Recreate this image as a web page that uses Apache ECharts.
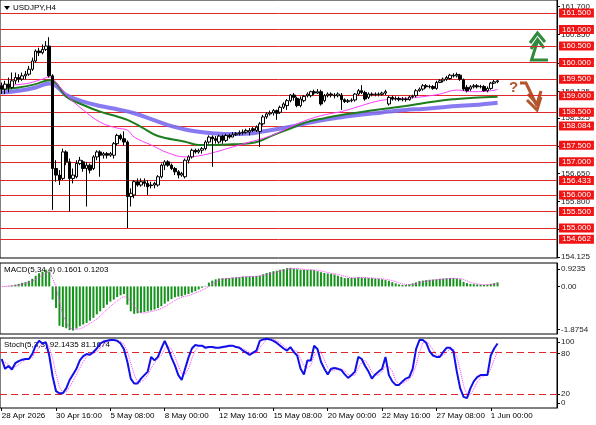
<!DOCTYPE html>
<html>
<head>
<meta charset="utf-8">
<title>USDJPY,H4</title>
<script src="https://cdn.jsdelivr.net/npm/echarts@6/dist/echarts.min.js"></script>
<style>
html, body { margin: 0; padding: 0; background: #fff; }
#chart { width: 596px; height: 425px; }
</style>
</head>
<body>
<div id="chart"></div>
<script>
// time axis: one label every 16 H4 bars
const timeLabels = ['28 Apr 2026', '30 Apr 16:00', '5 May 08:00', '8 May 00:00', '12 May 16:00',
  '15 May 08:00', '20 May 00:00', '22 May 16:00', '27 May 08:00', '1 Jun 00:00'];

const opens = [159.30,159.20,159.35,159.25,159.45,159.55,159.50,159.60,159.65,159.80,
  160.05,160.35,160.30,160.40,160.50,159.60,156.80,156.60,156.50,157.30,
  157.00,156.50,156.55,156.95,157.00,156.80,156.90,156.80,157.15,157.30,
  157.20,157.25,157.20,157.20,157.55,157.80,157.70,157.60,155.95,156.00,
  156.40,156.30,156.40,156.35,156.30,156.30,156.30,156.55,156.90,157.00,
  156.90,156.80,156.70,156.60,156.55,157.05,157.15,157.35,157.30,157.35,
  157.40,157.60,157.75,157.70,157.60,157.78,157.65,157.80,157.75,157.82,
  157.85,157.88,157.90,157.90,158.00,157.95,157.92,158.15,158.36,158.45,
  158.48,158.55,158.50,158.65,158.70,158.85,159.02,158.92,158.70,158.85,
  159.00,159.00,159.12,159.08,159.12,158.85,159.00,159.05,159.02,159.00,
  159.02,158.88,158.82,158.85,158.87,159.05,159.15,159.10,158.95,159.05,
  159.03,159.05,159.04,159.08,158.75,158.95,158.90,158.92,158.88,158.90,
  158.88,158.96,159.00,159.15,159.20,159.30,159.27,159.28,159.22,159.40,
  159.45,159.50,159.52,159.62,159.60,159.62,159.48,159.25,159.20,159.27,
  159.30,159.27,159.28,159.15,159.22,159.38,159.42];
const closes = [159.20,159.35,159.25,159.45,159.55,159.50,159.60,159.65,159.80,160.05,
  160.35,160.30,160.40,160.50,159.60,156.80,156.60,156.45,157.30,157.00,
  156.50,156.60,156.95,157.05,156.80,156.90,156.75,157.15,157.30,157.20,
  157.25,157.20,157.25,157.55,157.80,157.70,157.60,155.95,156.05,156.40,
  156.30,156.40,156.35,156.25,156.28,156.35,156.55,156.90,157.00,156.90,
  156.80,156.70,156.60,156.65,157.05,157.15,157.35,157.30,157.35,157.40,
  157.60,157.75,157.70,157.65,157.78,157.65,157.80,157.75,157.82,157.85,
  157.88,157.90,157.95,157.95,157.95,158.05,158.15,158.36,158.45,158.48,
  158.55,158.47,158.65,158.75,158.85,159.02,158.95,158.70,158.90,158.98,
  159.05,159.12,159.08,159.12,158.75,159.00,159.05,159.02,159.00,159.05,
  158.88,158.82,158.85,158.87,159.05,159.15,159.10,158.90,159.05,159.03,
  159.05,159.04,159.08,159.12,158.95,158.90,158.92,158.88,158.90,158.88,
  158.96,158.98,159.15,159.20,159.30,159.27,159.28,159.22,159.40,159.45,
  159.50,159.55,159.62,159.60,159.64,159.50,159.20,159.15,159.27,159.30,
  159.27,159.28,159.15,159.22,159.38,159.42,159.45];
const lows = [159.05,159.05,159.10,159.20,159.35,159.40,159.45,159.50,159.60,159.75,
  160.00,160.20,160.25,160.35,159.55,155.55,156.40,156.30,156.45,156.90,
  155.50,156.35,156.50,156.90,156.70,155.65,156.65,156.75,157.05,156.55,
  157.10,157.10,157.15,157.10,157.50,157.65,157.50,155.00,155.65,155.90,
  156.25,156.25,156.25,156.00,156.20,156.20,156.25,156.50,156.75,156.85,
  156.75,156.60,156.50,156.55,156.50,156.95,157.10,157.25,157.25,157.25,
  157.35,157.55,156.85,157.55,157.55,157.55,157.60,157.70,157.75,157.78,
  157.80,157.82,157.85,157.80,157.90,157.90,157.45,158.10,158.30,158.40,
  158.40,158.27,158.45,158.60,158.57,158.80,158.85,158.65,158.65,158.80,
  158.95,158.95,159.02,159.05,158.70,158.80,158.95,158.95,158.92,158.95,
  158.57,158.78,158.78,158.80,158.82,159.00,159.05,158.85,158.90,158.98,
  158.98,158.98,159.00,159.02,158.70,158.85,158.85,158.83,158.83,158.82,
  158.85,158.92,158.95,159.12,159.15,159.22,159.22,159.18,159.18,159.38,
  159.40,159.45,159.48,159.55,159.55,159.45,159.15,159.10,159.15,159.22,
  159.22,159.22,159.12,159.10,159.18,159.35,159.38];
const highs = [159.40,159.45,159.55,159.70,159.70,159.65,159.70,159.75,159.90,160.15,
  160.40,160.45,160.55,160.65,160.77,159.65,157.05,156.75,157.40,157.35,
  157.10,156.80,157.05,157.15,157.05,157.00,156.95,157.20,157.35,157.35,
  157.30,157.30,157.30,157.60,157.85,157.85,157.92,157.65,156.20,156.45,
  156.50,156.50,156.50,156.45,156.40,156.40,156.60,156.95,157.05,157.05,
  156.95,156.85,156.75,156.70,157.10,157.20,157.40,157.40,157.40,157.45,
  157.65,157.80,157.80,157.78,157.82,157.82,157.85,157.85,157.90,157.90,
  157.95,157.98,158.00,158.02,158.05,158.10,158.20,158.42,158.50,158.55,
  158.60,158.58,158.70,158.80,158.90,159.05,159.08,158.97,158.98,159.02,
  159.10,159.15,159.18,159.20,159.18,159.05,159.10,159.10,159.08,159.10,
  159.08,158.92,158.90,158.92,159.08,159.20,159.32,159.15,159.10,159.10,
  159.10,159.10,159.12,159.18,159.00,159.00,158.98,158.97,158.96,158.95,
  159.00,159.03,159.20,159.25,159.35,159.35,159.33,159.32,159.45,159.50,
  159.55,159.60,159.66,159.68,159.70,159.66,159.52,159.32,159.32,159.35,
  159.35,159.33,159.32,159.28,159.42,159.48,159.48];

// moving averages, read at [bar, price]
const maFast = [[0,159.30],[4,159.33],[8,159.38],[12,159.50],[14,159.57],[16,159.40],[19,159.02],
  [24,158.57],[29,158.20],[34,158.02],[37,157.96],[39,157.75],[44,157.51],[49,157.27],[54,157.15],
  [58,157.18],[63,157.30],[68,157.45],[73,157.60],[76,157.68],[80,157.82],[85,158.06],[90,158.27],
  [95,158.42],[100,158.52],[105,158.67],[110,158.82],[114,158.89],[119,158.92],[124,158.97],
  [129,159.05],[134,159.17],[139,159.12],[144,159.15],[146,159.19]];
const maMid = [[0,159.20],[5,159.25],[10,159.35],[14,159.47],[16,159.38],[19,158.97],[24,158.72],
  [29,158.52],[34,158.37],[37,158.27],[41,158.06],[46,157.78],[54,157.61],[58,157.51],[63,157.51],
  [68,157.53],[73,157.56],[76,157.63],[80,157.81],[85,158.01],[90,158.21],[95,158.32],[100,158.42],
  [105,158.49],[110,158.57],[114,158.62],[119,158.69],[124,158.77],[129,158.85],[134,158.90],
  [139,158.94],[146,158.97]];
const maSlow = [[0,159.10],[5,159.15],[10,159.25],[14,159.37],[16,159.30],[19,159.02],[24,158.82],
  [29,158.69],[34,158.59],[39,158.47],[44,158.29],[49,158.11],[54,157.98],[58,157.91],[63,157.86],
  [68,157.84],[73,157.86],[76,157.90],[80,157.97],[85,158.06],[90,158.17],[95,158.27],[100,158.35],
  [105,158.42],[110,158.47],[114,158.52],[119,158.57],[124,158.60],[129,158.64],[134,158.69],
  [139,158.72],[146,158.79]];

// support / resistance levels
const levels = [161.5, 161.0, 160.5, 160.0, 159.5, 159.0, 158.5, 158.084,
  157.5, 157.0, 156.433, 156.0, 155.5, 155.0, 154.662];
const priceTicks = [161.7, 160.85, 159.975, 159.125, 158.325, 157.475, 156.65, 155.8, 154.95, 154.125];

const macdHist = [0.00,0.01,0.02,0.04,0.07,0.10,0.14,0.17,0.22,0.30,
  0.42,0.52,0.58,0.66,0.58,-0.52,-0.85,-1.55,-1.60,-1.65,
  -1.72,-1.74,-1.66,-1.57,-1.50,-1.44,-1.35,-1.24,-1.10,-0.98,
  -0.85,-0.72,-0.60,-0.52,-0.42,-0.35,-0.30,-0.72,-0.98,-1.08,
  -1.06,-1.04,-1.01,-0.98,-0.95,-0.91,-0.85,-0.78,-0.68,-0.59,
  -0.50,-0.43,-0.40,-0.39,-0.33,-0.30,-0.24,-0.19,-0.12,-0.05,
  0.02,0.15,0.23,0.28,0.31,0.32,0.33,0.33,0.35,0.36,
  0.37,0.39,0.39,0.40,0.40,0.41,0.43,0.48,0.53,0.56,
  0.60,0.62,0.66,0.68,0.72,0.73,0.70,0.68,0.66,0.66,
  0.65,0.66,0.64,0.60,0.56,0.53,0.51,0.50,0.47,0.42,
  0.38,0.33,0.33,0.34,0.34,0.36,0.35,0.34,0.33,0.33,
  0.31,0.30,0.28,0.25,0.22,0.17,0.12,0.08,0.06,0.06,
  0.08,0.12,0.16,0.21,0.23,0.25,0.26,0.27,0.28,0.30,
  0.31,0.32,0.33,0.33,0.31,0.28,0.18,0.13,0.10,0.09,
  0.08,0.07,0.06,0.07,0.10,0.13,0.16];
const macdSignal = [0.00,0.00,0.01,0.02,0.04,0.06,0.09,0.12,0.16,0.21,
  0.28,0.36,0.45,0.54,0.58,0.31,-0.03,-0.58,-1.13,-1.41,
  -1.63,-1.68,-1.69,-1.67,-1.62,-1.54,-1.46,-1.38,-1.28,-1.17,
  -1.04,-0.91,-0.79,-0.67,-0.57,-0.47,-0.40,-0.45,-0.59,-0.77,
  -0.96,-1.04,-1.05,-1.02,-0.99,-0.96,-0.92,-0.87,-0.80,-0.72,
  -0.64,-0.55,-0.48,-0.43,-0.39,-0.36,-0.31,-0.26,-0.21,-0.15,
  -0.08,0.00,0.09,0.17,0.24,0.29,0.31,0.32,0.33,0.34,
  0.35,0.37,0.38,0.39,0.39,0.40,0.41,0.43,0.46,0.50,
  0.54,0.58,0.61,0.64,0.67,0.70,0.71,0.71,0.69,0.67,
  0.66,0.65,0.65,0.64,0.61,0.58,0.55,0.52,0.50,0.47,
  0.44,0.40,0.36,0.34,0.33,0.34,0.35,0.35,0.34,0.33,
  0.32,0.31,0.30,0.28,0.26,0.23,0.19,0.14,0.10,0.08,
  0.07,0.08,0.10,0.14,0.18,0.21,0.24,0.25,0.26,0.28,
  0.29,0.30,0.31,0.32,0.32,0.31,0.27,0.22,0.16,0.12,
  0.10,0.08,0.07,0.07,0.08,0.09,0.12];
const macdLabelVals = [0.687, 0, -1.69];
const macdLabelText = ['0.9235', '0.00', '-1.8754'];

const stochK = [70,56,60,55,64,67,69,70,70,77,
  89,96,92,94,75,45,24,21,21,28,
  40,48,56,68,74,77,76,80,85,92,
  95,96,97,97,96,92,84,66,42,35,
  35,42,47,52,73,68,73,85,96,85,
  72,61,47,40,56,72,85,90,89,89,
  86,87,87,86,86,87,88,89,89,87,
  86,82,79,76,79,82,96,98,99,98,
  96,93,89,85,82,87,80,75,56,48,
  68,68,89,84,66,56,48,56,57,56,
  54,48,43,47,52,73,70,60,52,42,
  48,52,56,73,47,38,33,33,38,42,
  44,56,84,97,97,93,81,75,73,73,
  80,86,86,81,52,28,16,14,28,38,
  44,47,47,47,75,85,92.14];
const stochD = [68,65,62,57,59,62,66,69,70,72,
  79,87,92,94,87,71,48,30,22,23,
  30,39,48,57,66,73,76,78,80,86,
  91,94,96,97,96,95,91,81,64,48,
  37,37,41,47,57,64,71,75,85,89,
  84,73,60,49,48,56,71,82,88,89,
  88,87,87,87,86,86,87,88,89,88,
  87,85,82,79,78,79,86,92,98,98,
  98,96,93,89,85,85,83,81,70,60,
  57,61,75,80,80,69,57,53,54,56,
  56,53,48,46,47,57,65,68,61,51,
  47,47,52,60,59,53,39,35,35,38,
  41,47,61,79,93,96,90,83,76,74,
  75,80,84,84,73,54,32,19,19,27,
  37,43,46,47,56,69,81.17];
const stochLevels = [80, 20];
const stochLabelVals = [94, 78, 20, 7];
const stochLabelText = ['100', '80', '20', '0'];

const SLOTS = 164;   // visible bar slots incl. empty space on the right
const categories = [];
for (let i = 0; i < SLOTS; i++) {
  categories.push(i % 16 === 0 && timeLabels[i / 16] ? timeLabels[i / 16] : '');
}
const candles = opens.map((o, i) => [o, closes[i], lows[i], highs[i]]);

const FONT = 'Liberation Sans';
const hasLabel = (idx, val) => val !== '';
const pick = (vals, texts) => v => {
  const k = vals.findIndex(x => Math.abs(x - v) < 1e-6);
  return k >= 0 ? texts[k] : '';
};

const chart = echarts.init(document.getElementById('chart'));
chart.setOption({
  animation: false,
  backgroundColor: '#fff',
  textStyle: { fontFamily: FONT },
  grid: [
    { left: 0, right: 39, top: 0, height: 258, show: true, borderColor: '#000', borderWidth: 1, outerBoundsMode: 'none' },
    { left: 0, right: 39, top: 263, height: 71, show: true, borderColor: '#000', borderWidth: 1, outerBoundsMode: 'none' },
    { left: 0, right: 39, top: 338, height: 70, show: true, borderColor: '#000', borderWidth: 1, outerBoundsMode: 'none' }
  ],
  xAxis: [
    { type: 'category', gridIndex: 0, data: categories, show: false },
    { type: 'category', gridIndex: 1, data: categories, show: false },
    {
      type: 'category', gridIndex: 2, data: categories,
      axisLine: { show: false },
      axisTick: { show: true, interval: hasLabel, alignWithLabel: true, length: 3, lineStyle: { color: '#000' } },
      axisLabel: { interval: hasLabel, align: 'left', margin: 4, fontSize: 8, color: '#000', fontFamily: FONT }
    }
  ],
  yAxis: [
    {
      type: 'value', gridIndex: 0, position: 'right', min: 154.094, max: 161.893,
      splitLine: { show: false },
      axisLine: { show: true, lineStyle: { color: '#000' } },
      axisTick: { show: true, length: 3, customValues: priceTicks, lineStyle: { color: '#000' } },
      axisLabel: { customValues: priceTicks, formatter: v => v.toFixed(3), margin: 4, fontSize: 8, color: '#222', fontFamily: FONT }
    },
    {
      type: 'value', gridIndex: 1, position: 'right', min: -1.8754, max: 0.9235,
      splitLine: { show: false },
      axisLine: { show: true, lineStyle: { color: '#000' } },
      axisTick: { show: true, length: 3, customValues: macdLabelVals, lineStyle: { color: '#000' } },
      axisLabel: { customValues: macdLabelVals, formatter: pick(macdLabelVals, macdLabelText), margin: 4, fontSize: 8, color: '#222', fontFamily: FONT }
    },
    {
      type: 'value', gridIndex: 2, position: 'right', min: 0, max: 100,
      splitLine: { show: false },
      axisLine: { show: true, lineStyle: { color: '#000' } },
      axisTick: { show: true, length: 3, customValues: stochLabelVals, lineStyle: { color: '#000' } },
      axisLabel: { customValues: stochLabelVals, formatter: pick(stochLabelVals, stochLabelText), margin: 4, fontSize: 8, color: '#222', fontFamily: FONT }
    }
  ],
  series: [
    {
      name: 'MA slow', type: 'line', xAxisIndex: 0, yAxisIndex: 0, data: maSlow, smooth: 0.4,
      showSymbol: false, z: 2, lineStyle: { color: '#7b6cf0', width: 4, opacity: 0.9 },
      markLine: {
        z: 1, silent: true, symbol: ['none', 'none'], precision: 3,
        lineStyle: { color: '#e0282a', width: 1, type: 'solid' },
        label: {
          position: 'end', distance: 2, formatter: p => Number(p.value).toFixed(3),
          backgroundColor: '#f01414', color: '#fff', fontSize: 8, fontFamily: FONT, padding: [1, 3, 0, 3]
        },
        data: levels.map(v => ({ yAxis: v }))
      }
    },
    { name: 'MA mid', type: 'line', xAxisIndex: 0, yAxisIndex: 0, data: maMid, smooth: 0.4,
      showSymbol: false, z: 2, lineStyle: { color: '#1e7d1e', width: 2 } },
    { name: 'MA fast', type: 'line', xAxisIndex: 0, yAxisIndex: 0, data: maFast, smooth: 0.4,
      showSymbol: false, z: 2, lineStyle: { color: '#ff3cff', width: 1 } },
    {
      name: 'USDJPY', type: 'candlestick', xAxisIndex: 0, yAxisIndex: 0, data: candles, barWidth: 3, z: 3,
      itemStyle: { color: '#fff', color0: '#000', borderColor: '#000', borderColor0: '#000', borderWidth: 1 }
    },
    {
      name: 'MACD', type: 'bar', xAxisIndex: 1, yAxisIndex: 1, data: macdHist, barWidth: 2,
      itemStyle: { color: '#14941a' }
    },
    {
      name: 'Signal', type: 'line', xAxisIndex: 1, yAxisIndex: 1, data: macdSignal, showSymbol: false,
      lineStyle: { color: '#ff3cff', width: 1, type: 'dotted' }
    },
    {
      name: '%D', type: 'line', xAxisIndex: 2, yAxisIndex: 2, data: stochD, showSymbol: false,
      lineStyle: { color: '#ff3cff', width: 1, type: 'dotted' },
      markLine: {
        z: 1, silent: true, symbol: ['none', 'none'], label: { show: false },
        lineStyle: { color: '#e0282a', width: 1, type: [7, 4] },
        data: stochLevels.map(v => ({ yAxis: v }))
      }
    },
    {
      name: '%K', type: 'line', xAxisIndex: 2, yAxisIndex: 2, data: stochK, showSymbol: false, z: 3,
      lineStyle: { color: '#1010e8', width: 2 }
    }
  ],
  graphic: [
    { type: 'polygon', shape: { points: [[4, 6], [10, 6], [7, 10]] }, style: { fill: '#000' } },
    { type: 'text', x: 13, y: 8, style: { text: 'USDJPY,H4', fontSize: 8, fontFamily: FONT, fill: '#000', verticalAlign: 'middle' } },
    { type: 'text', x: 4, y: 270, style: { text: 'MACD(5,34,4) 0.1601 0.1203', fontSize: 8, fontFamily: FONT, fill: '#000', verticalAlign: 'middle' } },
    { type: 'text', x: 4, y: 345, style: { text: 'Stoch(5,3,3) 92.1435 81.1674', fontSize: 8, fontFamily: FONT, fill: '#000', verticalAlign: 'middle' } },
    // green "up" sign
    { type: 'polyline', shape: { points: [[530, 43], [537.5, 33], [545, 42]] }, style: { stroke: '#2f8a3c', lineWidth: 3, fill: null } },
    { type: 'polyline', shape: { points: [[531, 49], [537.5, 39.5], [544, 48]] }, style: { stroke: '#2f8a3c', lineWidth: 3, fill: null } },
    { type: 'polyline', shape: { points: [[537.5, 41], [531.5, 60], [548, 60]] }, style: { stroke: '#2f8a3c', lineWidth: 3, fill: null } },
    // brown "?" and down sign
    { type: 'text', x: 509, y: 88, style: { text: '?', fontSize: 15, fontWeight: 'bold', fontFamily: FONT, fill: '#b4552d', verticalAlign: 'middle' } },
    { type: 'polyline', shape: { points: [[520, 83], [526, 83], [537, 106]] }, style: { stroke: '#b4552d', lineWidth: 3, fill: null } },
    { type: 'polyline', shape: { points: [[527, 100], [537, 110], [541, 97]] }, style: { stroke: '#b4552d', lineWidth: 3, fill: null } },
    { type: 'polyline', shape: { points: [[528, 94], [537, 104], [541, 91]] }, style: { stroke: '#b4552d', lineWidth: 3, fill: null } }
  ]
});
</script>
</body>
</html>
